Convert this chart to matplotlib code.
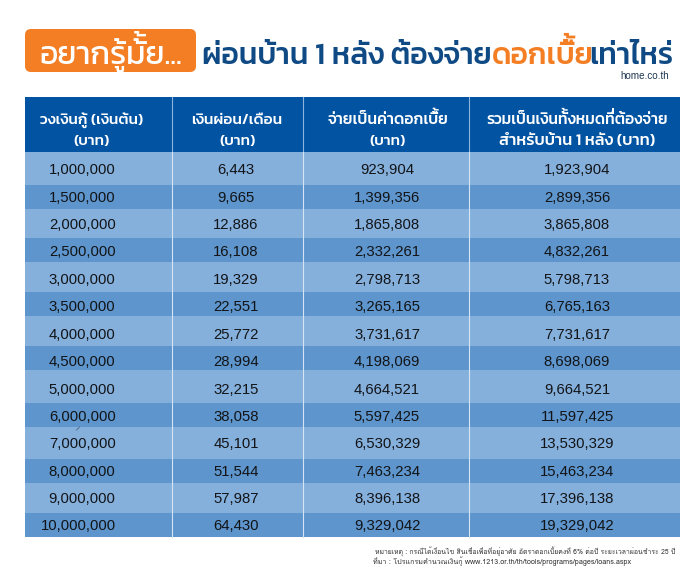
import matplotlib
matplotlib.use('Agg')
import matplotlib.pyplot as plt
from matplotlib.patches import FancyBboxPatch, Rectangle, PathPatch
from matplotlib.textpath import TextPath
from matplotlib.font_manager import FontProperties
from matplotlib.transforms import Affine2D

THAI = ['Loma', 'Noto Sans Thai', 'DejaVu Sans']
HEADF = ['Kanit', 'Loma', 'DejaVu Sans']
NUM = ['Liberation Sans', 'DejaVu Sans']

col_headers_1 = ['วงเงินกู้ (เงินต้น)', 'เงินผ่อน/เดือน', 'จ่ายเป็นค่าดอกเบี้ย', 'รวมเป็นเงินทั้งหมดที่ต้องจ่าย']
col_headers_2 = ['(บาท)', '(บาท)', '(บาท)', 'สำหรับบ้าน 1 หลัง (บาท)']
principal = ['1,000,000', '1,500,000', '2,000,000', '2,500,000', '3,000,000', '3,500,000', '4,000,000',
             '4,500,000', '5,000,000', '6,000,000', '7,000,000', '8,000,000', '9,000,000', '10,000,000']
monthly = ['6,443', '9,665', '12,886', '16,108', '19,329', '22,551', '25,772',
           '28,994', '32,215', '38,058', '45,101', '51,544', '57,987', '64,430']
interest = ['923,904', '1,399,356', '1,865,808', '2,332,261', '2,798,713', '3,265,165', '3,731,617',
            '4,198,069', '4,664,521', '5,597,425', '6,530,329', '7,463,234', '8,396,138', '9,329,042']
total = ['1,923,904', '2,899,356', '3,865,808', '4,832,261', '5,798,713', '6,765,163', '7,731,617',
         '8,698,069', '9,664,521', '11,597,425', '13,530,329', '15,463,234', '17,396,138', '19,329,042']
badge = 'อยากรู้มั้ย...'
title_parts = ['ผ่อนบ้าน 1 หลัง ต้องจ่าย', 'ดอกเบี้ย', 'เท่าไหร่']
site = 'home.co.th'
note1 = 'หมายเหตุ : กรณีได้เงื่อนไข สินเชื่อเพื่อที่อยู่อาศัย อัตราดอกเบี้ยคงที่ 6% ต่อปี ระยะเวลาผ่อนชำระ 25 ปี'
note2 = 'ที่มา : โปรแกรมคำนวณเงินกู้ www.1213.or.th/th/tools/programs/pages/loans.aspx'

# layout in reference pixels
col_x = [24.5, 171.5, 302.5, 468.5, 680]
row_edges = [152, 185, 209, 238, 262, 292, 316, 346, 370, 403, 427, 459, 483, 513, 537]
title_nudge = [0, -4.5, 0]

NAVY = '#0F4A84'; ORANGE = '#F47E24'; HEAD = '#0253A2'; LIGHT = '#85B0DC'; DARK = '#5D95CC'
UPPER = 'ัิีึื'
TONES = '่้๊๋'

fig = plt.figure(figsize=(7, 5.7), dpi=100)
ax = fig.add_axes([0, 0, 1, 1])
ax.set_xlim(0, 700); ax.set_ylim(570, 0); ax.axis('off')
rend = fig.canvas.get_renderer()

def raise_tones(t, raise_em=0.24):
    """matplotlib does no Thai mark stacking: redraw a tone that follows an upper vowel above it."""
    s = t.get_text()
    size = t.get_fontsize()
    x0 = t.get_window_extent(rend).x0
    weight = t.get_fontweight()
    for i, ch in enumerate(s):
        if ch in TONES and i and s[i - 1] in UPPER:
            probe = ax.text(0, 0, s[:i], family=t.get_fontfamily(), fontweight=weight, fontsize=size)
            adv = probe.get_window_extent(rend).width
            probe.remove()
            fp = FontProperties(family='Kanit', weight=weight)
            px = size * 100 / 72
            path = TextPath((0, 0), ch, size=px, prop=fp)
            tr = Affine2D().scale(1, -1).translate(x0 + adv, t.get_position()[1] - raise_em * px)
            ax.add_patch(PathPatch(path, transform=tr + ax.transData, fc=t.get_color(), ec='none'))

def fit(s, x, y, width, ha='center', color='k', family=THAI, weight='normal', stack=False):
    t = ax.text(x, y, s, ha=ha, va='baseline', color=color, family=family, fontweight=weight, fontsize=12)
    w = t.get_window_extent(rend).width
    t.set_fontsize(12 * width / w)
    if stack:
        raise_tones(t)
    return t

# badge
ax.add_patch(FancyBboxPatch((29, 33), 163, 35, boxstyle='round,pad=4,rounding_size=6', fc=ORANGE, ec='none',
                            mutation_aspect=1))
fit(badge, 111, 64, 143, color='white', family=HEADF, weight=400, stack=True)

# title in three colours
x = 202
title_size = 21.6
for s, c, nudge in zip(title_parts, [NAVY, ORANGE, NAVY], title_nudge):
    t = ax.text(x, 64, s, ha='left', va='baseline', color=c, family=HEADF, fontweight=500, fontsize=title_size)
    raise_tones(t)
    x = ax.transData.inverted().transform(t.get_window_extent(rend))[1][0] + nudge
fit(site, 669, 79, 49, ha='right', color='#1d3550', family=NUM)

# table
ax.add_patch(Rectangle((col_x[0], 97), col_x[-1] - col_x[0], 55, fc=HEAD, ec='none'))
for i in range(len(principal)):
    ax.add_patch(Rectangle((col_x[0], row_edges[i]), col_x[-1] - col_x[0], row_edges[i + 1] - row_edges[i],
                           fc=LIGHT if i % 2 == 0 else DARK, ec='none'))
for cx in col_x[1:-1]:
    ax.plot([cx, cx], [97, 152], color='#8fb4dc', lw=0.8)
    ax.plot([cx, cx], [152, 537], color='#d5e4f3', lw=0.8)

# header text
centres = [92, 237, 388, 577]
w1 = [102, 90, 120, 181]
w2 = [36, 36, 36, 156]
for c, a, b, wa, wb in zip(centres, col_headers_1, col_headers_2, w1, w2):
    fit(a, c, 124, wa, color='white', weight=500, family=HEADF, stack=True)
    fit(b, c, 145, wb, color='white', weight=500, family=HEADF, stack=True)

# body
num_size = 10.7
for i, (p, m, n, tot) in enumerate(zip(principal, monthly, interest, total)):
    y = 169 + 27.4 * i + 5.3
    kw = dict(va='baseline', family=NUM, fontsize=num_size, color='#121417')
    ax.text(115.5, y, p, ha='right', **kw)
    ax.text(236, y, m, ha='center', **kw)
    ax.text(387, y, n, ha='center', **kw)
    ax.text(577, y, tot, ha='center', **kw)

# small stray mark in the source image
ax.plot([76.5, 79.5], [430, 427], color='#5b6f8c', lw=0.7)

# notes
fit(note1, 675, 554, 302, ha='right', color='#333333')
fit(note2, 631, 564, 258, ha='right', color='#333333')

fig.savefig('out.png', dpi=100)
